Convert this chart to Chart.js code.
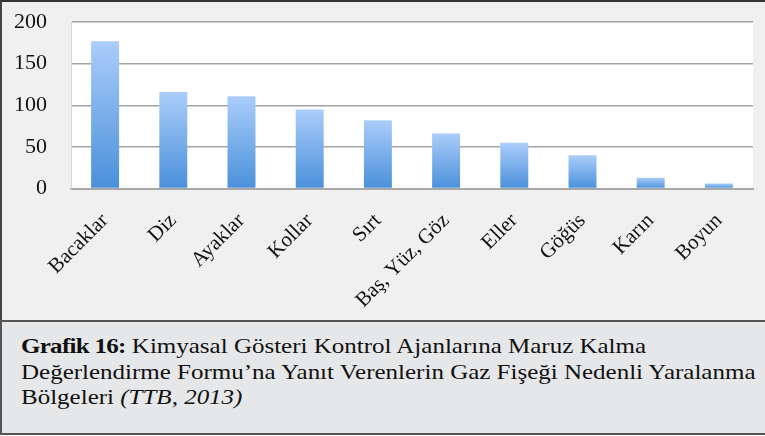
<!DOCTYPE html>
<html lang="tr">
<head>
<meta charset="utf-8">
<script src="https://cdn.jsdelivr.net/npm/chart.js@4.4.1/dist/chart.umd.min.js"></script>
<style>
    body { margin: 0; background: #ffffff; }
    .figura { position: relative; width: 765px; height: 436px; overflow: hidden; }
    .painel {
        position: absolute; left: 0; top: 0; width: 765px; height: 320px;
        background: #f0f0f0; border-top: 2px solid #333; border-left: 2px solid #444;
        box-sizing: border-box;
    }
    .painel canvas { display: block; }
    .legenda {
        position: absolute; left: 0; top: 320px; width: 765px; height: 115px;
        background: #e6e7e8; border-top: 2px solid #555; border-left: 2px solid #555;
        border-bottom: 2px solid #555;
        font-family: "Liberation Serif", serif; font-size: 21px; line-height: 25.5px;
        color: #111; padding: 12px 0 0 19px; box-sizing: border-box; white-space: nowrap;
    }
    .legenda .linha { display: block; transform: scaleX(1.19); transform-origin: left center; }
    .legenda .linha b { letter-spacing: -0.6px; }
</style>
</head>
<body>
<div class="figura">
    <div class="painel"><canvas id="grafico" width="763" height="318"></canvas></div>
    <div class="legenda">
        <span class="linha"><b>Grafik 16:</b> Kimyasal Gösteri Kontrol Ajanlarına Maruz Kalma</span>
        <span class="linha">Değerlendirme Formu’na Yanıt Verenlerin Gaz Fişeği Nedenli Yaralanma</span>
        <span class="linha">Bölgeleri <i>(TTB, 2013)</i></span>
    </div>
</div>
<script>
// ---------------------
// Dados
// ---------------------
const BOLGELER = ['Bacaklar', 'Diz', 'Ayaklar', 'Kollar', 'Sırt', 'Baş, Yüz, Göz', 'Eller', 'Göğüs', 'Karın', 'Boyun'];
const DEGERLER = [177, 116, 111, 95, 82, 66, 55, 40, 13, 6];
const Y_MIN = 0;
const Y_MAX = 200;
const Y_ADIM = 50;

// ---------------------
// Fundo branco da área do gráfico
// ---------------------
const fundoArea = {
    id: 'fundoArea',
    beforeDraw(chart) {
        const { ctx, chartArea } = chart;
        ctx.save();
        ctx.fillStyle = '#ffffff';
        ctx.fillRect(chartArea.left, chartArea.top, chartArea.right - chartArea.left, chartArea.bottom - chartArea.top);
        ctx.restore();
    }
};

// gradiente por barra (claro em cima, escuro embaixo)
function gradienteBarra(context) {
    const chart = context.chart;
    if (!chart.chartArea) return '#7aaee9';
    const y = chart.scales.y;
    const topo = y.getPixelForValue(context.raw);
    const base = y.getPixelForValue(0);
    const g = chart.ctx.createLinearGradient(0, topo, 0, base);
    g.addColorStop(0, '#abcdfa');
    g.addColorStop(1, '#4a90da');
    return g;
}

// tira o espaço extra que o Chart.js reserva para os rótulos
// (o padding dos ticks entra duas vezes no tamanho do eixo)
function semPaddingExtra(scale) {
    scale.paddingLeft = 0;
    scale.paddingRight = 0;
    scale.paddingTop = 0;
    scale.paddingBottom = 0;
    const pad = scale.options.ticks.padding;
    if (scale.isHorizontal()) scale.height -= pad;
    else scale.width -= pad;
}

// ---------------------
// Gráfico
// ---------------------
new Chart(document.getElementById('grafico').getContext('2d'), {
    type: 'bar',
    data: {
        labels: BOLGELER,
        datasets: [{
            data: DEGERLER,
            backgroundColor: gradienteBarra,
            borderWidth: 0,
            categoryPercentage: 1,
            barPercentage: 0.41
        }]
    },
    options: {
        responsive: false,
        animation: false,
        layout: {
            autoPadding: false,
            padding: { top: 20, right: 12, left: 12, bottom: 7 }
        },
        plugins: {
            legend: { display: false },
            tooltip: { enabled: false }
        },
        scales: {
            x: {
                afterFit: semPaddingExtra,
                grid: { display: false },
                border: { color: '#a8a8a8', width: 2 },
                ticks: {
                    color: '#111',
                    font: { family: 'Liberation Serif', size: 21 },
                    maxRotation: 45,
                    minRotation: 45,
                    padding: 12
                }
            },
            y: {
                afterFit: semPaddingExtra,
                min: Y_MIN,
                max: Y_MAX,
                grid: { color: '#a3a3a3', lineWidth: 1.5, drawTicks: false },
                border: { color: '#d8d8d8', width: 1 },
                ticks: {
                    stepSize: Y_ADIM,
                    color: '#111',
                    font: { family: 'Liberation Serif', size: 22 },
                    padding: 24
                }
            }
        }
    },
    plugins: [fundoArea]
});
</script>
</body>
</html>
